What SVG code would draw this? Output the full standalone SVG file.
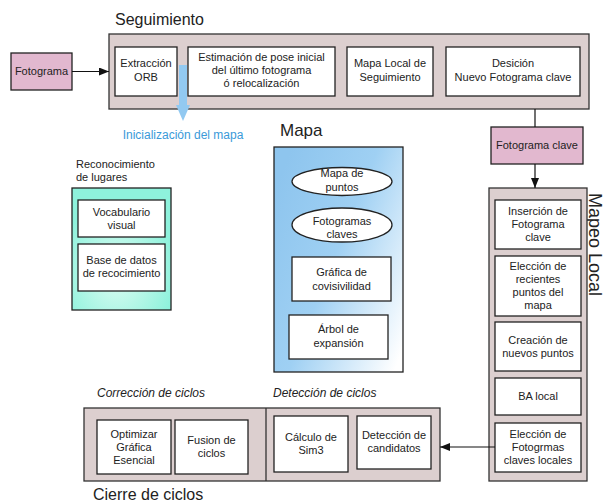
<svg xmlns="http://www.w3.org/2000/svg" width="605" height="503" viewBox="0 0 605 503">
<style>
text{font-family:"Liberation Sans",Arial,sans-serif;font-size:11px;fill:#222;text-anchor:middle}
.outer{fill:#dccfcf;stroke:#333;stroke-width:1.3}
.box{fill:#fff;stroke:#222;stroke-width:1.3}
.pink{fill:#e2b8cf;stroke:#222;stroke-width:1.3}
.title{font-size:16px;text-anchor:start}
.ital{font-size:12px;font-style:italic;text-anchor:start}
.line{stroke:#111;stroke-width:1.2;fill:none}
</style>
<defs>
<marker id="ah" markerWidth="10" markerHeight="8" refX="10" refY="4" orient="auto" markerUnits="userSpaceOnUse">
<path d="M0,0 L10,4 L0,8 z" fill="#111"/>
</marker>
<linearGradient id="gMapa" x1="0" y1="0.2" x2="1" y2="0.9">
<stop offset="0" stop-color="#8ec5ee"/>
<stop offset="0.45" stop-color="#9fd0f3"/>
<stop offset="1" stop-color="#ffffff"/>
</linearGradient>
<radialGradient id="gTeal" cx="0.45" cy="0.7" r="0.6">
<stop offset="0" stop-color="#ddfcf2"/>
<stop offset="1" stop-color="#8ef2dc"/>
</radialGradient>
</defs>

<text class="title" x="115" y="25">Seguimiento</text>
<text class="title" x="280" y="136" style="font-size:17px">Mapa</text>
<text class="title" x="93" y="500">Cierre de ciclos</text>
<text class="title" transform="translate(589,193) rotate(90)" style="font-size:18px">Mapeo Local</text>
<text class="ital" x="97" y="397">Corrección de ciclos</text>
<text class="ital" x="273" y="397">Detección de ciclos</text>
<text x="183" y="139" style="font-size:12px;fill:#3a9ad9">Inicialización del mapa</text>

<g id="fotograma">
<rect class="pink" x="11" y="53" width="61" height="37"/>
<text x="41.5" y="75">Fotograma</text>
</g>

<g id="seguimiento">
<rect class="outer" x="109" y="34" width="480" height="75"/>
<g id="extraccion">
<rect class="box" x="115" y="47" width="62" height="49"/>
<text x="146" y="67">Extracción</text>
<text x="146" y="81">ORB</text>
</g>
<g id="estimacion">
<rect class="box" x="188" y="47" width="147" height="49"/>
<text x="261.5" y="61">Estimación de pose inicial</text>
<text x="261.5" y="74">del último fotograma</text>
<text x="261.5" y="87">ó relocalización</text>
</g>
<g id="mapalocal">
<rect class="box" x="347" y="47" width="86" height="49"/>
<text x="390" y="67">Mapa Local de</text>
<text x="390" y="81">Seguimiento</text>
</g>
<g id="desicion">
<rect class="box" x="446" y="47" width="134" height="49"/>
<text x="513" y="67">Desición</text>
<text x="513" y="81">Nuevo Fotograma clave</text>
</g>
</g>

<g id="init-arrow">
<path d="M179,65 H187 V105 H190 L183,121 L176,105 H179 Z" fill="#92c9f1"/>
</g>

<g id="fotograma-clave">
<rect class="pink" x="491" y="127" width="92" height="37"/>
<text x="537" y="149">Fotograma clave</text>
</g>

<g id="reconocimiento">
<text x="76" y="168" style="text-anchor:start">Reconocimiento</text>
<text x="76" y="181" style="text-anchor:start">de lugares</text>
<rect x="72" y="188" width="99" height="122" fill="url(#gTeal)" stroke="#222" stroke-width="1.3"/>
<g id="vocabulario">
<rect class="box" x="78" y="200" width="87" height="37"/>
<text x="121.5" y="216">Vocabulario</text>
<text x="121.5" y="229">visual</text>
</g>
<g id="basedatos">
<rect class="box" x="78" y="244" width="87" height="47"/>
<text x="121.5" y="264">Base de datos</text>
<text x="121.5" y="277">de recocimiento</text>
</g>
</g>

<g id="mapa">
<rect x="274" y="147" width="129" height="225" fill="url(#gMapa)" stroke="#222" stroke-width="1.3"/>
<g id="mapa-puntos">
<ellipse cx="342" cy="181.5" rx="50" ry="14" fill="#fff" stroke="#222" stroke-width="1.3"/>
<text x="342" y="177">Mapa de</text>
<text x="342" y="191">puntos</text>
</g>
<g id="fotogramas-claves">
<ellipse cx="342" cy="225" rx="50" ry="17" fill="#fff" stroke="#222" stroke-width="1.3"/>
<text x="342" y="225">Fotogramas</text>
<text x="342" y="238">claves</text>
</g>
<g id="grafica">
<rect class="box" x="292" y="257" width="99" height="44"/>
<text x="341.5" y="276">Gráfica de</text>
<text x="341.5" y="290">covisivilidad</text>
</g>
<g id="arbol">
<rect class="box" x="289" y="315" width="99" height="44"/>
<text x="338.5" y="333">Árbol de</text>
<text x="338.5" y="347">expansión</text>
</g>
</g>

<g id="mapeo-local">
<rect class="outer" x="489" y="188" width="98" height="293"/>
<g id="insercion">
<rect class="box" x="495" y="200" width="86" height="49"/>
<text x="538" y="215">Inserción de</text>
<text x="538" y="228">Fotograma</text>
<text x="538" y="241">clave</text>
</g>
<g id="eleccion-puntos">
<rect class="box" x="495" y="256" width="86" height="60"/>
<text x="538" y="270">Elección de</text>
<text x="538" y="283">recientes</text>
<text x="538" y="296">puntos del</text>
<text x="538" y="309">mapa</text>
</g>
<g id="creacion">
<rect class="box" x="495" y="322" width="86" height="49"/>
<text x="538" y="344">Creación de</text>
<text x="538" y="357">nuevos puntos</text>
</g>
<g id="ba-local">
<rect class="box" x="495" y="378" width="86" height="37"/>
<text x="538" y="400">BA local</text>
</g>
<g id="eleccion-fotogramas">
<rect class="box" x="495" y="423" width="86" height="49"/>
<text x="538" y="438">Elección de</text>
<text x="538" y="451">Fotogrmas</text>
<text x="538" y="464">claves locales</text>
</g>
</g>

<g id="cierre">
<rect class="outer" x="84" y="408" width="356" height="73"/>
<line x1="266" y1="408" x2="266" y2="481" stroke="#333" stroke-width="1.3"/>
<g id="optimizar">
<rect class="box" x="97" y="420" width="74" height="54"/>
<text x="134" y="438">Optimizar</text>
<text x="134" y="451">Gráfica</text>
<text x="134" y="464">Esencial</text>
</g>
<g id="fusion">
<rect class="box" x="175" y="420" width="73" height="54"/>
<text x="211.5" y="444">Fusion de</text>
<text x="211.5" y="457">ciclos</text>
</g>
<g id="calculo">
<rect class="box" x="274" y="416" width="74" height="56"/>
<text x="311" y="441">Cálculo de</text>
<text x="311" y="454">Sim3</text>
</g>
<g id="deteccion">
<rect class="box" x="357" y="416" width="74" height="53"/>
<text x="394" y="439">Detección de</text>
<text x="394" y="452">candidatos</text>
</g>
</g>

<g id="connectors">
<line class="line" x1="72" y1="71.5" x2="109" y2="71.5" marker-end="url(#ah)"/>
<line class="line" x1="535" y1="109" x2="535" y2="127"/>
<line class="line" x1="535" y1="164" x2="535" y2="188" marker-end="url(#ah)"/>
<line class="line" x1="495" y1="447" x2="440" y2="447" marker-end="url(#ah)"/>
</g>
</svg>
